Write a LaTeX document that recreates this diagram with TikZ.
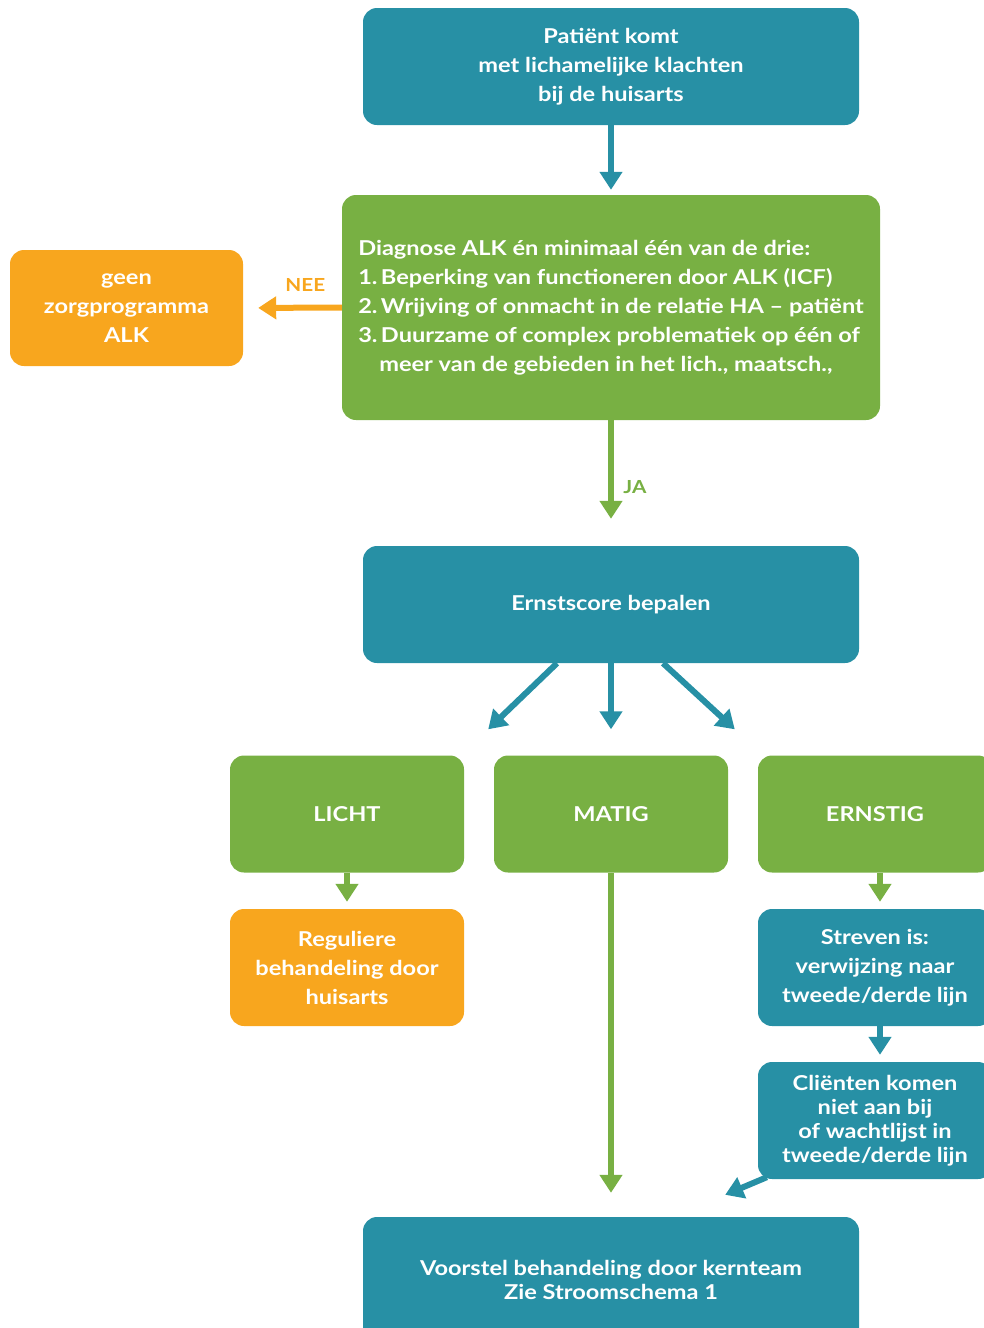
\documentclass[tikz,border=0pt]{standalone}
\usepackage{fontspec}
\setmainfont{Lato}[FakeStretch=1.15]
\usetikzlibrary{arrows.meta}
\definecolor{flowteal}{HTML}{2790A5}
\definecolor{flowgreen}{HTML}{78B043}
\definecolor{floworange}{HTML}{F8A61E}
\begin{document}
\begin{tikzpicture}[x=1pt,y=-1pt,
  box/.style={rounded corners=14pt, minimum width=234pt, minimum height=117pt,
    text=white, font=\bfseries\fontsize{20.5}{29}\selectfont, align=center, inner sep=0pt},
  wide/.style={minimum width=496pt},
  tealbox/.style={box, fill=flowteal},
  greenbox/.style={box, fill=flowgreen},
  orangebox/.style={box, fill=floworange},
  conn/.style={line width=6pt, -{Triangle[length=18pt,width=22pt]}},
  tealarrow/.style={conn, draw=flowteal, fill=flowteal},
  greenarrow/.style={conn, draw=flowgreen, fill=flowgreen},
  orangearrow/.style={conn, draw=floworange, fill=floworange},
  lbl/.style={font=\bfseries\fontsize{18}{20}\selectfont}
]
\useasboundingbox (0,0) rectangle (984,1328);
\clip (0,0) rectangle (984,1328);

% boxes
\node[tealbox, wide] (start) at (611,66.5) {Patiënt komt\\met lichamelijke klachten\\bij de huisarts};
\node[greenbox, minimum width=538pt, minimum height=225pt, align=left] (diag) at (611,307.5)
  {\begin{tabular}{@{}l@{}}
   Diagnose ALK én minimaal één van de drie:\\
   1.\,Beperking van functioneren door ALK (ICF)\\
   2.\,Wrijving of onmacht in de relatie HA – patiënt\\
   3.\,Duurzame of complex problematiek op één of\\
   \hspace{21pt}meer van de gebieden in het lich., maatsch.,
   \end{tabular}};
\node[orangebox, minimum width=233pt, minimum height=116pt] (geen) at (126.5,308) {geen\\zorgprogramma\\ALK};
\node[tealbox, wide] (ernst) at (611,604.5) {Ernstscore bepalen};
\node[greenbox] (licht) at (347,814) {LICHT};
\node[greenbox] (matig) at (611,814) {MATIG};
\node[greenbox] (ernstig) at (875,814) {ERNSTIG};
\node[orangebox] (regulier) at (347,967.5) {Reguliere\\behandeling door\\huisarts};
\node[tealbox] (streven) at (875,967.5) {Streven is:\\verwijzing naar\\tweede/derde lijn};
\node[tealbox, font=\bfseries\fontsize{20.5}{24}\selectfont] (clienten) at (875,1120.5)
  {Cliënten komen\\niet aan bij\\of wachtlijst in\\tweede/derde lijn};
\node[tealbox, wide, minimum height=125pt, font=\bfseries\fontsize{20.5}{24}\selectfont] (voorstel) at (611,1279.5)
  {Voorstel behandeling door kernteam\\Zie Stroomschema 1};

% connectors
\draw[tealarrow, shorten >=5pt] (start) -- (diag);
\draw[orangearrow, shorten >=15pt] (diag.west) -- (geen.east)
  node[lbl, text=floworange, pos=0.37, yshift=23pt] {NEE};
\draw[greenarrow, shorten >=27pt] (diag.south) -- (ernst.north)
  node[lbl, text=flowgreen, pos=0.53, anchor=west, xshift=6pt] {JA};
\draw[tealarrow] ([xshift=-54pt]ernst.south) -- ([xshift=24pt,yshift=26pt]licht.north east);
\draw[tealarrow, shorten >=26pt] (ernst.south) -- (matig.north);
\draw[tealarrow] ([xshift=52pt]ernst.south) -- ([xshift=-23pt,yshift=26pt]ernstig.north west);
\draw[greenarrow, shorten >=7pt] (licht.south) -- (regulier.north);
\draw[greenarrow, shorten >=24pt] (matig.south) -- (voorstel.north);
\draw[greenarrow, shorten >=7pt] ([xshift=5pt]ernstig.south) -- ([xshift=5pt]streven.north);
\draw[tealarrow, shorten >=7pt] ([xshift=5pt]streven.south) -- ([xshift=5pt]clienten.north);
\draw[tealarrow] ([xshift=9pt,yshift=2pt]clienten.south west) -- ([xshift=-134pt,yshift=22pt]voorstel.north east);
\end{tikzpicture}
\end{document}
